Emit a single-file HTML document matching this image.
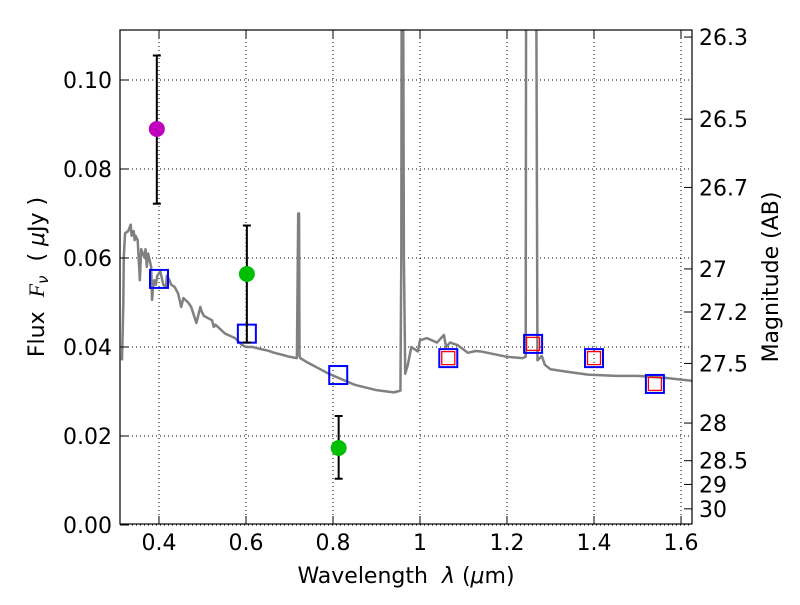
<!DOCTYPE html>
<html><head><meta charset="utf-8"><style>
body{margin:0;background:#fff}
svg text{font-family:"DejaVu Sans","Liberation Sans",sans-serif;font-size:22px;fill:#000}
</style></head><body>
<svg id="chart" width="800" height="600" xmlns="http://www.w3.org/2000/svg">
<defs><clipPath id="clip"><rect x="120" y="30" width="572" height="494"/></clipPath></defs>
<g id="grid"></g>
<g id="spec" clip-path="url(#clip)"></g>
<g id="marks"></g>
<rect x="120" y="30" width="572" height="494" fill="none" stroke="#000" stroke-width="1.2"/>
<g id="axes"></g>
<text x="406" y="583" text-anchor="middle">Wavelength&#160;&#160;<tspan font-style="italic">λ</tspan> (<tspan font-style="italic">μ</tspan>m)</text>
<text transform="translate(44,277) rotate(-90)" text-anchor="middle">Flux&#160;&#160;<tspan font-style="italic" font-family="Liberation Serif">F</tspan><tspan font-style="italic" font-size="15" dy="4">ν</tspan><tspan dy="-4">&#160;&#160;( </tspan><tspan font-style="italic">μ</tspan>Jy )</text>
<text transform="translate(778,277) rotate(-90)" text-anchor="middle">Magnitude (AB)</text>
</svg>
<script>
const xTicks=[0.4,0.6,0.8,1.0,1.2,1.4,1.6];
const xTickLabels=["0.4","0.6","0.8","1","1.2","1.4","1.6"];
const yTicks=[0,0.02,0.04,0.06,0.08,0.10];
const yTickLabels=["0.00","0.02","0.04","0.06","0.08","0.10"];
const magTicks=[26.3,26.5,26.7,27,27.2,27.5,28,28.5,29,30];
const specLam=[0.315,0.318,0.319,0.322,0.329,0.335,0.337,0.339,0.342,0.344,0.346,0.351,0.356,0.359,0.367,0.369,0.372,0.375,0.382,0.384,0.386,0.389,0.393,0.396,0.403,0.41,0.416,0.418,0.424,0.428,0.436,0.444,0.451,0.456,0.467,0.474,0.486,0.495,0.498,0.503,0.522,0.526,0.53,0.552,0.575,0.59,0.6,0.615,0.635,0.65,0.665,0.685,0.7,0.717,0.72,0.722,0.723,0.725,0.74,0.79,0.85,0.9,0.94,0.955,0.957,0.958,0.961,0.963,0.966,0.972,0.98,0.995,1.0,1.016,1.039,1.055,1.06,1.069,1.087,1.11,1.128,1.14,1.2,1.235,1.243,1.244,1.246,1.265,1.267,1.27,1.28,1.287,1.3,1.34,1.386,1.45,1.5,1.545,1.57,1.625];
const specFlux=[0.037,0.050,0.060,0.0656,0.066,0.0675,0.065,0.066,0.066,0.064,0.065,0.064,0.055,0.062,0.060,0.062,0.058,0.061,0.058,0.0506,0.053,0.055,0.054,0.056,0.057,0.054,0.0535,0.056,0.055,0.054,0.0535,0.052,0.049,0.051,0.050,0.049,0.0454,0.049,0.048,0.047,0.046,0.0445,0.045,0.043,0.042,0.0405,0.040,0.040,0.0395,0.0392,0.0387,0.0382,0.0378,0.0375,0.070,0.070,0.038,0.0375,0.0366,0.034,0.0315,0.0303,0.0298,0.0302,0.06,0.13,0.13,0.06,0.034,0.036,0.040,0.039,0.0415,0.042,0.041,0.0427,0.040,0.041,0.0404,0.0387,0.0391,0.039,0.0378,0.0375,0.0378,0.13,0.13,0.13,0.13,0.037,0.038,0.036,0.035,0.0344,0.0338,0.0335,0.0335,0.0332,0.033,0.0324];
const sqLam=[0.4,0.602,0.812,1.065,1.26,1.40,1.54];
const sqFlux=[0.0553,0.0430,0.0337,0.0375,0.0407,0.0375,0.0317];
const redLam=[1.065,1.26,1.40,1.54];
const redFlux=[0.0375,0.0407,0.0375,0.0317];
const ptLam=[0.395,0.602,0.813];
const ptFlux=[0.089,0.0564,0.0173];
const ptErrLo=[0.0722,0.041,0.0104];
const ptErrHi=[0.1055,0.0673,0.0245];
const ptColor=["#bf00bf","#00bf00","#00bf00"];
const NS="http://www.w3.org/2000/svg";
const X=l=>420+(l-1)*435, Y=f=>525-4450*f;
const magY=m=>Y(Math.pow(10,(23.9-m)/2.5));
function mk(tag,attrs,parent){const e=document.createElementNS(NS,tag);for(const k in attrs)e.setAttribute(k,attrs[k]);parent.appendChild(e);return e;}
const grid=document.getElementById('grid'),axes=document.getElementById('axes'),spec=document.getElementById('spec'),marks=document.getElementById('marks');
xTicks.forEach((t,i)=>{const x=X(t);
 const g=mk('line',{x1:x,x2:x,y1:30,y2:524,stroke:'#000','stroke-dasharray':'1,3','stroke-width':1},grid);
 
 mk('line',{x1:x,x2:x,y1:524,y2:516,stroke:'#000'},axes);mk('line',{x1:x,x2:x,y1:30,y2:38,stroke:'#000'},axes);
 const tx=mk('text',{x:x,y:550,'text-anchor':'middle'},axes);tx.textContent=xTickLabels[i];
 });
yTicks.forEach((t,i)=>{const y=Y(t);
 const g=mk('line',{x1:120,x2:692,y1:y,y2:y,stroke:'#000','stroke-dasharray':'1,3','stroke-width':1},grid);
 
 mk('line',{x1:120,x2:128,y1:y,y2:y,stroke:'#000'},axes);
 const tx=mk('text',{x:112,y:y+8,'text-anchor':'end'},axes);tx.textContent=yTickLabels[i];
 });
magTicks.forEach(m=>{const y=magY(m);
 mk('line',{x1:692,x2:684,y1:y,y2:y,stroke:'#000'},axes);
 const tx=mk('text',{x:699,y:y+8},axes);tx.textContent=String(m);
 });
const p=mk('polyline',{points:specLam.map((l,i)=>X(l)+','+Y(specFlux[i])).join(' '),fill:'none',stroke:'#808080','stroke-width':2.5,'stroke-linejoin':'round'},spec);

sqLam.forEach((l,i)=>{const r=mk('rect',{x:X(l)-9,y:Y(sqFlux[i])-9,width:18,height:18,fill:'none',stroke:'#0000ff','stroke-width':2},marks);
 });
redLam.forEach((l,i)=>{const r=mk('rect',{x:X(l)-6.5,y:Y(redFlux[i])-6.5,width:13,height:13,fill:'none',stroke:'#ff0000','stroke-width':1.3},marks);
 });
ptLam.forEach((l,i)=>{const x=X(l);
 const e=mk('g',{},marks);
 
 mk('line',{x1:x,x2:x,y1:Y(ptErrLo[i]),y2:Y(ptErrHi[i]),stroke:'#000','stroke-width':2},e);
 mk('line',{x1:x-4,x2:x+4,y1:Y(ptErrLo[i]),y2:Y(ptErrLo[i]),stroke:'#000','stroke-width':2},e);
 mk('line',{x1:x-4,x2:x+4,y1:Y(ptErrHi[i]),y2:Y(ptErrHi[i]),stroke:'#000','stroke-width':2},e);
 const c=mk('circle',{cx:x,cy:Y(ptFlux[i]),r:8,fill:ptColor[i]},marks);
 });
</script>
</body></html>
